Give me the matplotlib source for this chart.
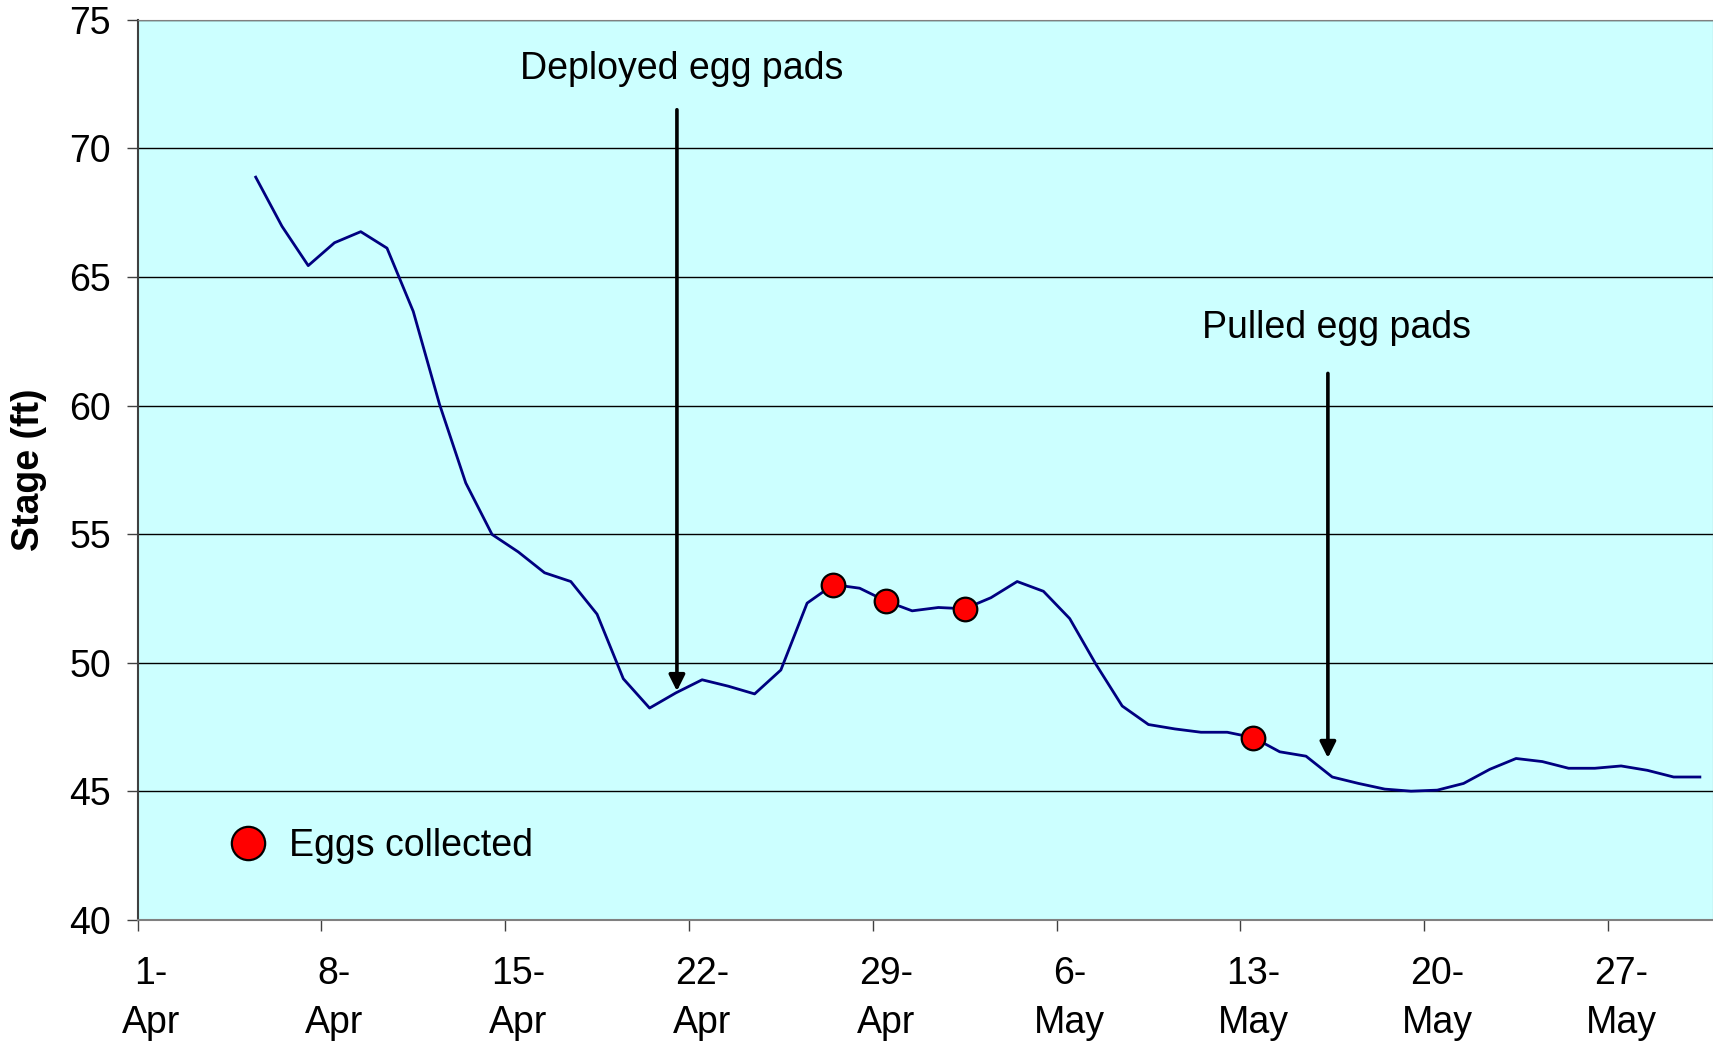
import pandas as pd
import matplotlib.pyplot as plt
import matplotlib.dates as mdates
from matplotlib.lines import Line2D

plt.rcParams['font.family'] = ['Liberation Sans', 'DejaVu Sans']

# Daily river stage (ft), 5-Apr to 30-May
stage = [68.88, 66.97, 65.44, 66.33, 66.76, 66.12, 63.66, 60.05, 56.99, 54.99,
         54.31, 53.50, 53.16, 51.89, 49.38, 48.24, 48.83, 49.34, 49.09, 48.79,
         49.72, 52.32, 53.04, 52.90, 52.40, 52.02, 52.15, 52.10, 52.53, 53.16,
         52.78, 51.72, 49.94, 48.32, 47.60, 47.43, 47.30, 47.30, 47.09, 46.54,
         46.37, 45.56, 45.31, 45.09, 45.01, 45.05, 45.31, 45.86, 46.28, 46.16,
         45.90, 45.90, 45.99, 45.82, 45.56, 45.56]
dates = pd.date_range('2005-04-05', periods=len(stage), freq='D')

egg_days = ['2005-04-27', '2005-04-29', '2005-05-02', '2005-05-13']

df = pd.DataFrame({'stage': stage}, index=dates)
eggs = df.loc[pd.to_datetime(egg_days)]

# points sit in the middle of each day
half = pd.Timedelta(hours=12)
fs = 27

fig = plt.figure(figsize=(17.13, 10.43), dpi=100)
ax = fig.add_axes([0.0803, 0.1179, 0.9197, 0.8632])
ax.set_facecolor('#ccffff')

ax.plot(df.index + half, df['stage'], color='#000080', lw=2.0, zorder=3)
ax.plot(eggs.index + half, eggs['stage'], 'o', color='red', mec='black',
        mew=1.6, ms=17, zorder=4)

# arrows + notes
ax.annotate('', xy=(pd.Timestamp('2005-04-21 13:00'), 48.9),
            xytext=(pd.Timestamp('2005-04-21 13:00'), 71.5),
            arrowprops=dict(arrowstyle='-|>', color='black', lw=2.6,
                            mutation_scale=24, shrinkA=0, shrinkB=0))
ax.text(pd.Timestamp('2005-04-21 17:00'), 73.1, 'Deployed egg pads',
        ha='center', va='center', fontsize=fs)
ax.annotate('', xy=(pd.Timestamp('2005-05-16 08:00'), 46.3),
            xytext=(pd.Timestamp('2005-05-16 08:00'), 61.25),
            arrowprops=dict(arrowstyle='-|>', color='black', lw=2.6,
                            mutation_scale=24, shrinkA=0, shrinkB=0))
ax.text(pd.Timestamp('2005-05-16 16:00'), 63.0, 'Pulled egg pads',
        ha='center', va='center', fontsize=fs)

# axes
ax.set_ylim(40, 75)
ax.set_yticks(range(40, 80, 5))
ax.grid(axis='y', color='black', lw=1)
ax.set_axisbelow(True)
ax.set_xlim(pd.Timestamp('2005-04-01'), pd.Timestamp('2005-05-31'))

ticks = pd.date_range('2005-04-01', '2005-05-27', freq='7D')
ax.set_xticks(ticks)
ax.set_xticklabels([])
ax.set_xticks(ticks + half, minor=True)
ax.set_xticklabels([f'{d.day}-\n{d.strftime("%b")}' for d in ticks],
                   minor=True, fontsize=fs, linespacing=1.45)
ax.tick_params(axis='x', which='major', length=8, width=1, color='#404040')
ax.tick_params(axis='x', which='minor', length=0, pad=26)
ax.tick_params(axis='y', length=8, width=1, pad=11, labelsize=fs, color='#404040')

for s in ['top', 'right']:
    ax.spines[s].set_color('#808080')
ax.spines['bottom'].set_color('#808080')
ax.spines['left'].set_color('#404040')
ax.spines['bottom'].set_linewidth(1.5)
ax.spines['left'].set_linewidth(1.5)

fig.text(0.017, 0.55, 'Stage (ft)', rotation=90, ha='center', va='center',
         fontsize=fs, fontweight='bold')

handle = Line2D([], [], ls='none', marker='o', color='red', mec='black',
                mew=1.6, ms=24)
ax.legend([handle], ['Eggs collected'], loc='center left',
          bbox_to_anchor=(0.037, 0.0825), frameon=False, fontsize=fs,
          handletextpad=0.08, borderaxespad=0)

fig.savefig('out.png')
